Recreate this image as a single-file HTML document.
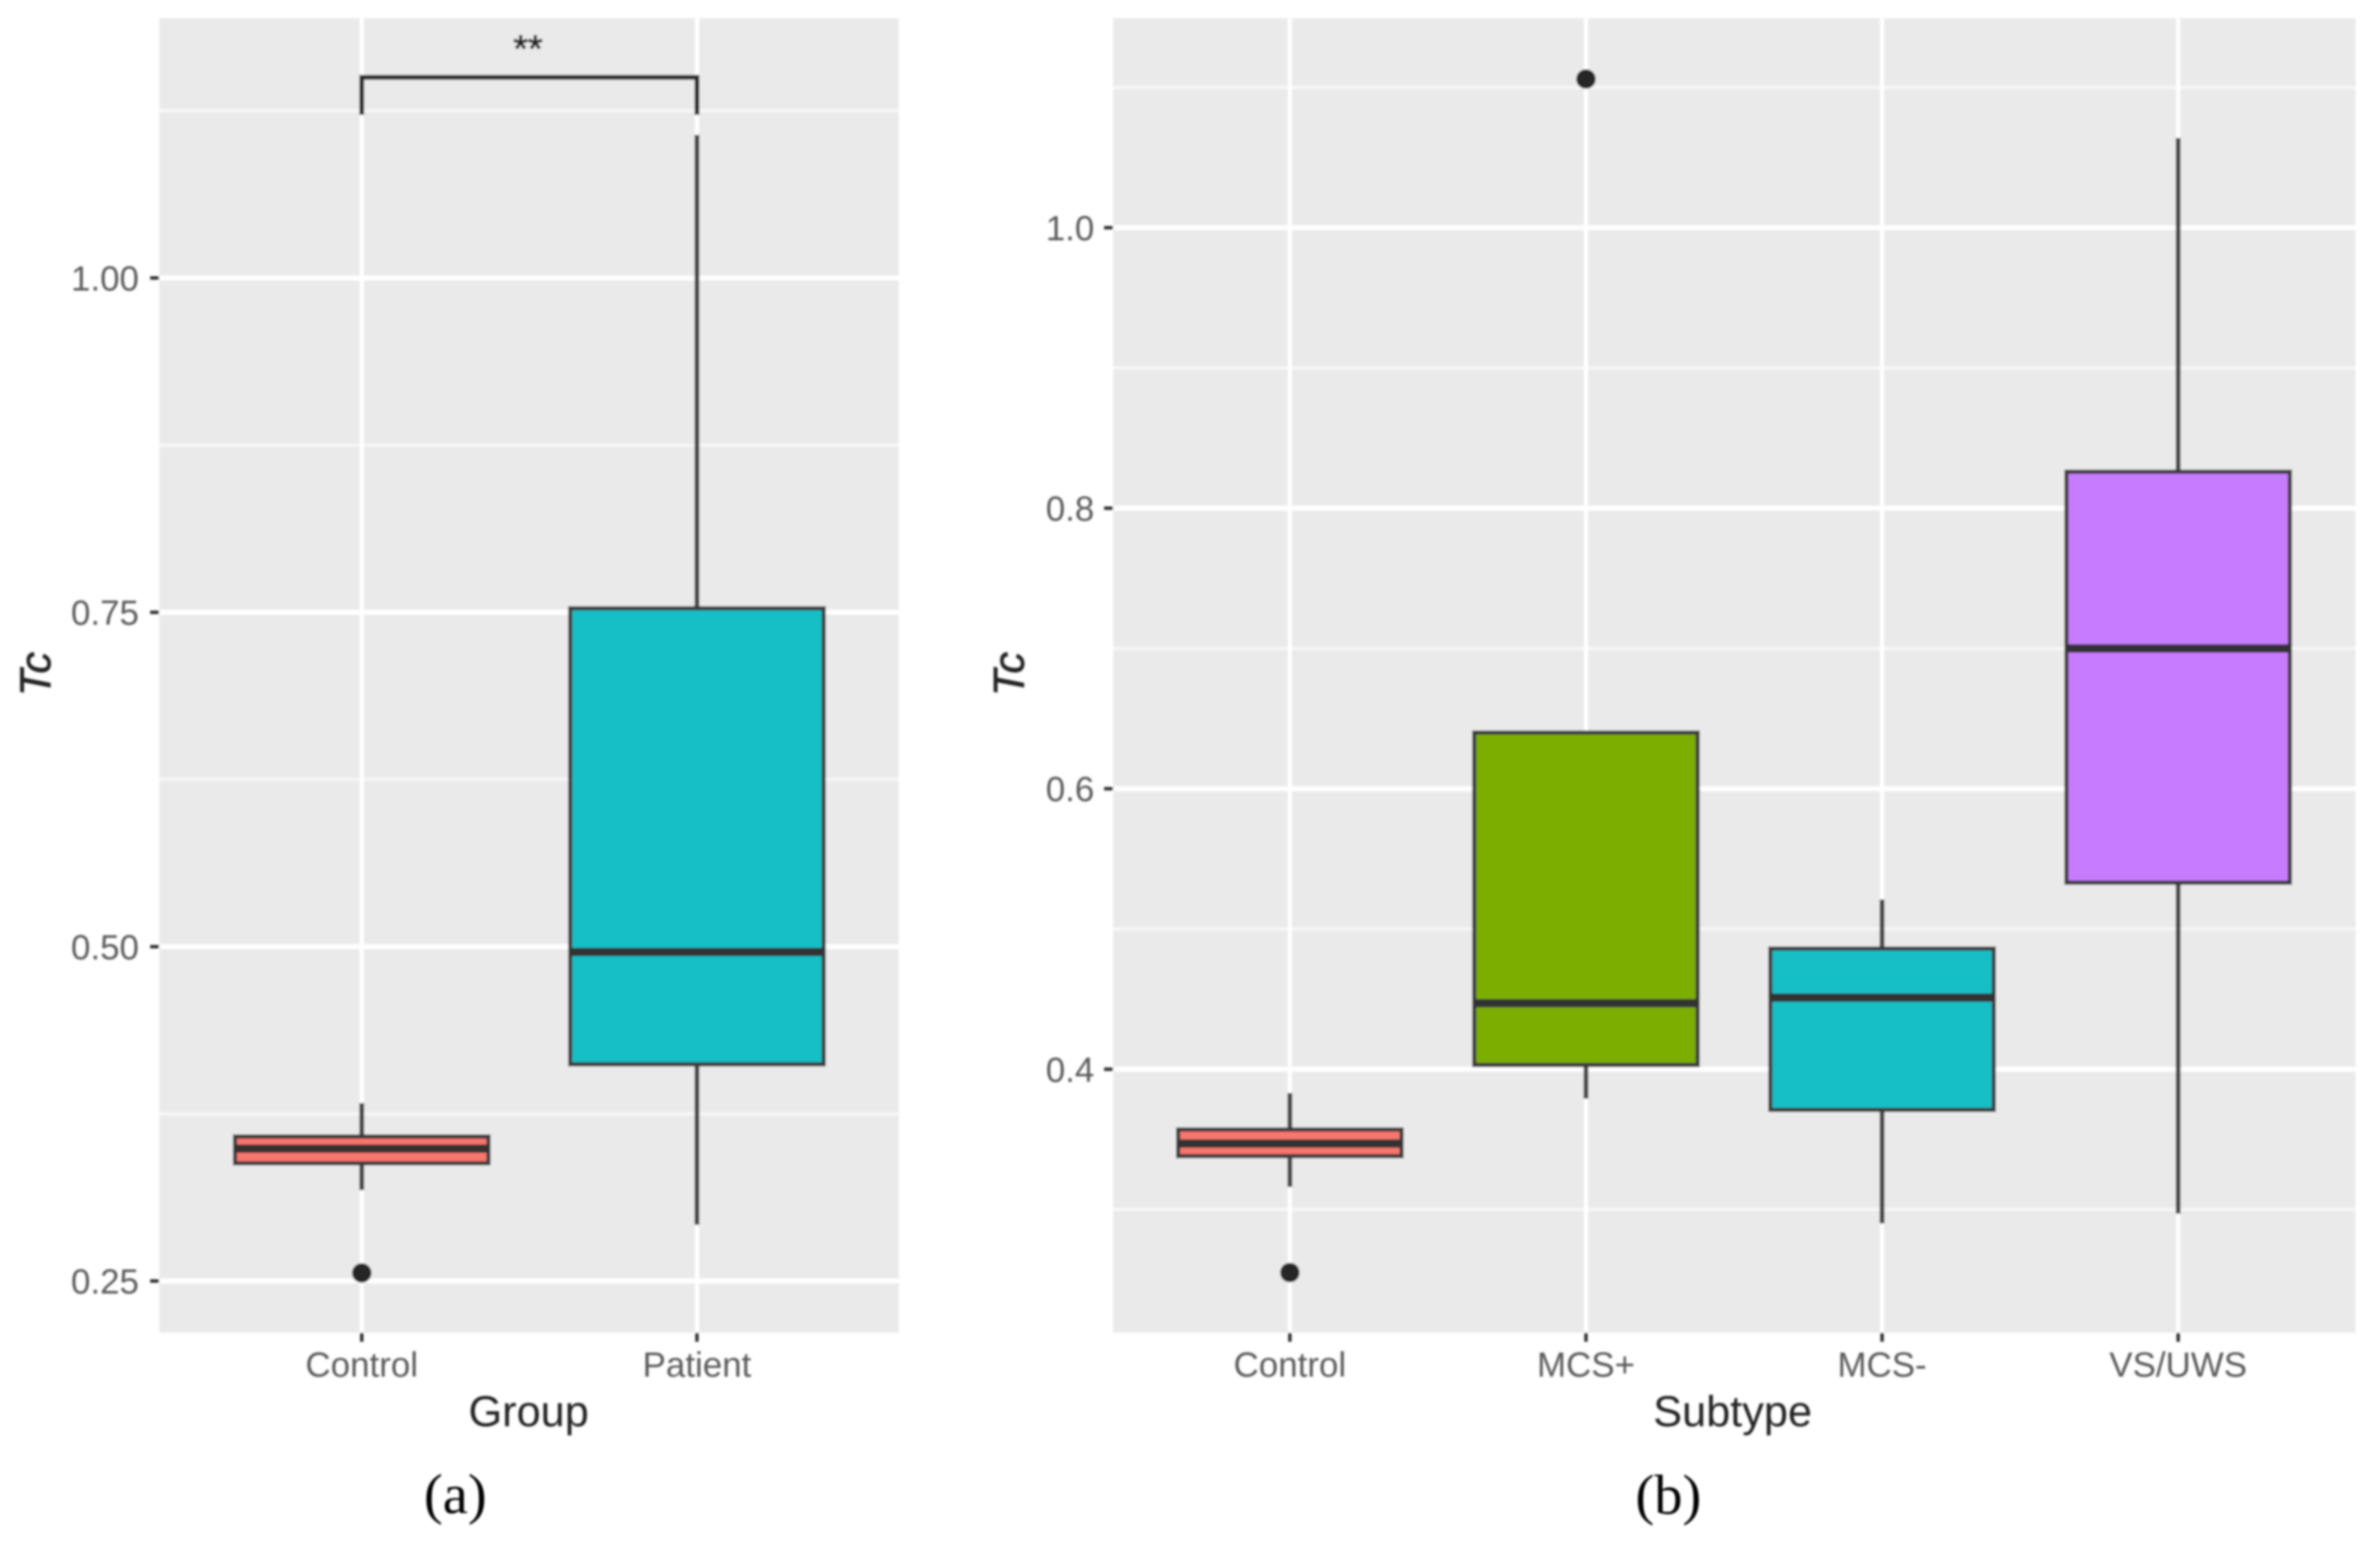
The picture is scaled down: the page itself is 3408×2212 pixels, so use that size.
<!DOCTYPE html>
<html lang="en">
<head>
<meta charset="utf-8">
<title>Tc by Group and Subtype</title>
<style>
html,body{margin:0;padding:0;background:#fff;width:3408px;height:2212px;overflow:hidden}
svg{display:block}
text{font-family:"Liberation Sans",Arial,sans-serif}
</style>
</head>
<body>
<svg id="figure" xmlns="http://www.w3.org/2000/svg" width="3408" height="2212" viewBox="0 0 3408 2212">
<defs><filter id="soft" x="-2%" y="-2%" width="104%" height="104%"><feGaussianBlur stdDeviation="1.7"/></filter></defs>
<g id="root" filter="url(#soft)">
<g id="panelA"></g>
<g id="panelB"></g>
<text x="757" y="2042" font-size="62" text-anchor="middle" fill="#222">Group</text>
<text x="2481" y="2042" font-size="62" text-anchor="middle" fill="#222">Subtype</text>
<text transform="translate(72,965) rotate(-90)" font-size="62" font-style="italic" text-anchor="middle" fill="#222" stroke="#222" stroke-width="1">Tc</text>
<text transform="translate(1466,965) rotate(-90)" font-size="62" font-style="italic" text-anchor="middle" fill="#222" stroke="#222" stroke-width="1">Tc</text>
<text x="652" y="2166" font-size="81" text-anchor="middle" fill="#000" style="font-family:'Liberation Serif',serif">(a)</text>
<text x="2389" y="2167" font-size="81" text-anchor="middle" fill="#000" style="font-family:'Liberation Serif',serif">(b)</text>
<text x="756" y="88" font-size="54" text-anchor="middle" fill="#222" stroke="#222" stroke-width="1.5">**</text>
</g>
</svg>
<script>
// Panel (a) data
const groupCategories = ['Control', 'Patient'];
const groupFills = ['#F8766D', '#14BFC6'];
const groupLow = [0.318, 0.292];
const groupQ1 = [0.338, 0.412];
const groupMedian = [0.349, 0.496];
const groupQ3 = [0.358, 0.753];
const groupHigh = [0.383, 1.107];
const groupOutliers = [[0.256], []];
const groupTicks = [0.25, 0.50, 0.75, 1.00];
const groupTickLabels = ['0.25', '0.50', '0.75', '1.00'];
const groupMinorTicks = [0.375, 0.625, 0.875, 1.125];
const bracketTop = [1.15];
const bracketBottom = [1.122];

// Panel (b) data
const subtypeCategories = ['Control', 'MCS+', 'MCS-', 'VS/UWS'];
const subtypeFills = ['#F8766D', '#7CAE00', '#14BFC6', '#C77CFF'];
const subtypeLow = [0.316, 0.379, 0.290, 0.297];
const subtypeQ1 = [0.338, 0.403, 0.371, 0.533];
const subtypeMedian = [0.347, 0.447, 0.451, 0.700];
const subtypeQ3 = [0.357, 0.640, 0.486, 0.826];
const subtypeHigh = [0.383, 0.640, 0.521, 1.064];
const subtypeOutliers = [[0.255], [1.106], [], []];
const subtypeTicks = [0.4, 0.6, 0.8, 1.0];
const subtypeTickLabels = ['0.4', '0.6', '0.8', '1.0'];
const subtypeMinorTicks = [0.3, 0.5, 0.7, 0.9, 1.1];

const NS = 'http://www.w3.org/2000/svg';

function line(parent, x1, y1, x2, y2, stroke, width) {
  const el = document.createElementNS(NS, 'line');
  el.setAttribute('x1', x1);
  el.setAttribute('y1', y1);
  el.setAttribute('x2', x2);
  el.setAttribute('y2', y2);
  el.setAttribute('stroke', stroke);
  el.setAttribute('stroke-width', width);
  parent.appendChild(el);
  return el;
}

function label(parent, x, y, str, anchor) {
  const el = document.createElementNS(NS, 'text');
  el.setAttribute('x', x);
  el.setAttribute('y', y);
  el.setAttribute('font-size', '50');
  el.setAttribute('fill', '#5a5a5a');
  el.setAttribute('text-anchor', anchor);
  el.textContent = str;
  parent.appendChild(el);
  return el;
}

function drawPanel(parent, opt) {
  const { left, right, top, bottom, xPos, yPos, boxWidth, labelRight } = opt;

  const bg = document.createElementNS(NS, 'rect');
  bg.setAttribute('x', left);
  bg.setAttribute('y', top);
  bg.setAttribute('width', right - left);
  bg.setAttribute('height', bottom - top);
  bg.setAttribute('fill', '#EAEAEA');
  
  
  parent.appendChild(bg);

  opt.minor.forEach(function (v) {
    const g = line(parent, left, yPos(v), right, yPos(v), '#F6F6F6', 5);
    
    
  });
  opt.ticks.forEach(function (v, i) {
    const g = line(parent, left, yPos(v), right, yPos(v), '#FFFFFF', 7);
    
    
    const t = line(parent, left - 13, yPos(v), left, yPos(v), '#333', 5);
    
    
    const l = label(parent, labelRight, yPos(v) + 18, opt.tickLabels[i], 'end');
    
    
  });
  opt.categories.forEach(function (c, i) {
    const g = line(parent, xPos(i), top, xPos(i), bottom, '#FFFFFF', 6);
    
    
    const t = line(parent, xPos(i), bottom, xPos(i), bottom + 13, '#333', 5);
    
    
    const l = label(parent, xPos(i), 1971, c, 'middle');
    
    
  });

  opt.categories.forEach(function (c, i) {
    const x = xPos(i);
    const upper = line(parent, x, yPos(opt.high[i]), x, yPos(opt.q3[i]), '#444', 7);
    
    
    const lower = line(parent, x, yPos(opt.q1[i]), x, yPos(opt.low[i]), '#444', 7);
    
    

    const box = document.createElementNS(NS, 'rect');
    box.setAttribute('x', x - boxWidth / 2);
    box.setAttribute('y', yPos(opt.q3[i]));
    box.setAttribute('width', boxWidth);
    box.setAttribute('height', yPos(opt.q1[i]) - yPos(opt.q3[i]));
    box.setAttribute('fill', opt.fills[i]);
    box.setAttribute('stroke', '#3a3a3a');
    box.setAttribute('stroke-width', '6');
    
    
    parent.appendChild(box);

    const med = line(parent, x - boxWidth / 2, yPos(opt.median[i]), x + boxWidth / 2, yPos(opt.median[i]), '#333', 12);
    
    

    opt.outliers[i].forEach(function (v) {
      const dot = document.createElementNS(NS, 'circle');
      dot.setAttribute('cx', x);
      dot.setAttribute('cy', yPos(v));
      dot.setAttribute('r', '14');
      dot.setAttribute('fill', '#262626');
      
      
      parent.appendChild(dot);
    });
  });
}

const yA = function (v) { return 398 + (1 - v) * 1914.7; };
const xA = function (i) { return 518 + i * 480; };
const yB = function (v) { return 326 + (1 - v) * 2008; };
const xB = function (i) { return 1847 + i * 424; };

const panelA = document.getElementById('panelA');
const panelB = document.getElementById('panelB');

drawPanel(panelA, {
  left: 228, right: 1287, top: 26, bottom: 1908,
  xPos: xA, yPos: yA, boxWidth: 363, labelRight: 199,
  categories: groupCategories, fills: groupFills,
  low: groupLow, q1: groupQ1, median: groupMedian, q3: groupQ3, high: groupHigh,
  outliers: groupOutliers, ticks: groupTicks, tickLabels: groupTickLabels, minor: groupMinorTicks
});

drawPanel(panelB, {
  left: 1594, right: 3373, top: 26, bottom: 1908,
  xPos: xB, yPos: yB, boxWidth: 320, labelRight: 1567,
  categories: subtypeCategories, fills: subtypeFills,
  low: subtypeLow, q1: subtypeQ1, median: subtypeMedian, q3: subtypeQ3, high: subtypeHigh,
  outliers: subtypeOutliers, ticks: subtypeTicks, tickLabels: subtypeTickLabels, minor: subtypeMinorTicks
});

const bracket = document.createElementNS(NS, 'path');
bracket.setAttribute('d', 'M' + xA(0) + ' ' + yA(bracketBottom[0]) + 'V' + yA(bracketTop[0]) + 'H' + xA(1) + 'V' + yA(bracketBottom[0]));
bracket.setAttribute('fill', 'none');
bracket.setAttribute('stroke', '#2b2b2b');
bracket.setAttribute('stroke-width', '7');


panelA.appendChild(bracket);
</script>
</body>
</html>
